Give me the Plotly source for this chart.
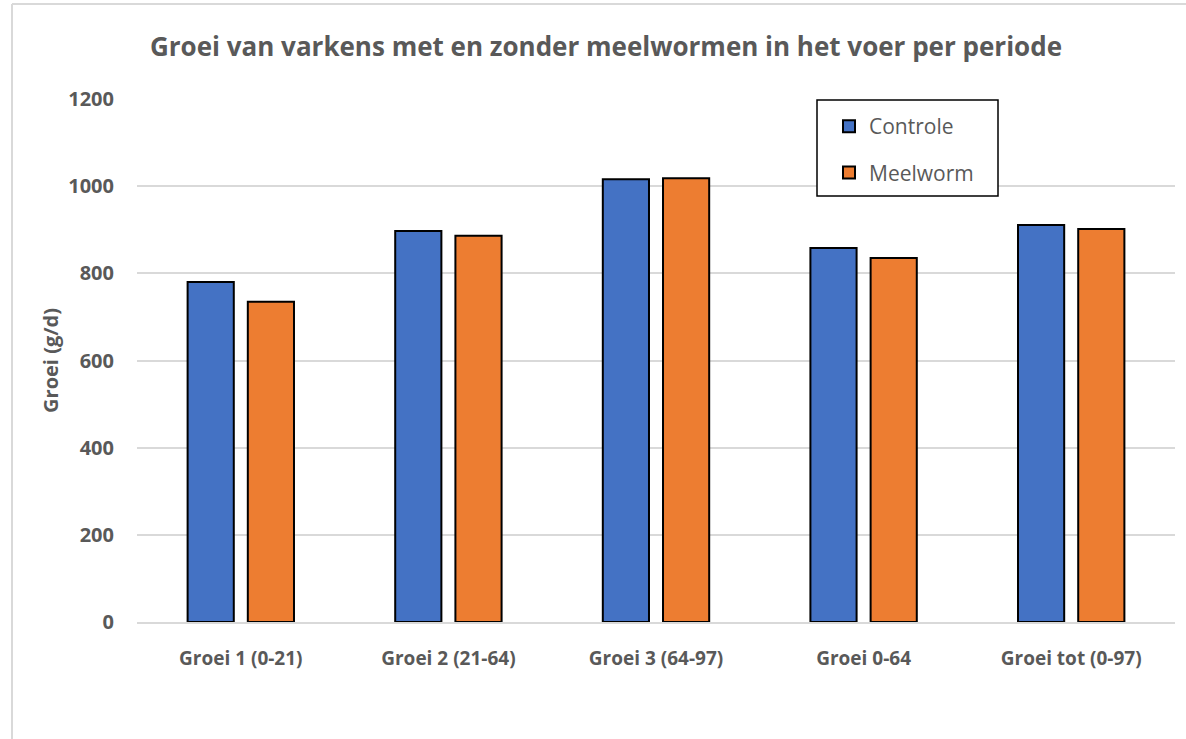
import plotly.graph_objects as go

categories = ["Groei 1 (0-21)", "Groei 2 (21-64)", "Groei 3 (64-97)", "Groei 0-64", "Groei tot (0-97)"]
controle = [780, 897, 1016, 858, 911]
meelworm = [735, 886, 1018, 835, 902]
y_ticks = [0, 200, 400, 600, 800, 1000, 1200]

W, H = 1186, 739
L, R, T, B = 137, 11, 99, 117
pw, ph = W - L - R, H - T - B

font_family = "Open Sans, Noto Sans, sans-serif"
gray = "#595959"

fig = go.Figure()
fig.add_trace(go.Bar(x=categories, y=controle, name="Controle", legendgroup="a",
                     marker=dict(color="#4472C4", line=dict(color="black", width=2))))
fig.add_trace(go.Bar(x=categories, y=meelworm, name="Meelworm", legendgroup="b",
                     marker=dict(color="#ED7D31", line=dict(color="black", width=2))))

fx = lambda px: (px - L) / pw
fy = lambda py: 1 - (py - T) / ph

fig.update_layout(
    width=W, height=H,
    margin=dict(l=L, r=R, t=T, b=B, autoexpand=False),
    paper_bgcolor="white", plot_bgcolor="white",
    barmode="group", bargap=0.42, bargroupgap=0.233,
    title=dict(text="Groei van varkens met en zonder meelwormen in het voer per periode",
               xref="paper", x=fx(606), xanchor="center",
               yref="container", y=1 - 47 / H, yanchor="middle",
               font=dict(family=font_family, size=26, color=gray, weight="bold")),
    font=dict(family=font_family, color=gray),
    legend=dict(x=fx(819), y=fy(106), xanchor="left", yanchor="top",
                borderwidth=0, bgcolor="rgba(0,0,0,0)",
                traceorder="grouped", tracegroupgap=16, indentation=10,
                font=dict(family=font_family, size=21, color=gray)),
    xaxis=dict(showgrid=False, showline=True, linecolor="#d9d9d9", linewidth=1.5,
               tickfont=dict(family=font_family, size=19, color=gray, weight="bold"),
               ticks="", ticklabelstandoff=18),
    yaxis=dict(range=[0, 1200], tickvals=y_ticks, showgrid=True, gridcolor="#d9d9d9",
               gridwidth=1.5, zeroline=False, showline=False, ticks="",
               ticklabelstandoff=22,
               tickfont=dict(family=font_family, size=20, color=gray, weight="bold"),
               title=dict(text="Groei (g/d)", standoff=4,
                          font=dict(family=font_family, size=20, color=gray, weight="bold"))),
    shapes=[
        dict(type="line", xref="paper", yref="paper", x0=fx(12), x1=fx(W), y0=fy(4), y1=fy(4),
             line=dict(color="#d9d9d9", width=2)),
        dict(type="line", xref="paper", yref="paper", x0=fx(12), x1=fx(12), y0=fy(4), y1=fy(H),
             line=dict(color="#d9d9d9", width=2)),
        dict(type="rect", xref="paper", yref="paper", layer="above",
             x0=fx(817), x1=fx(998), y0=fy(196), y1=fy(100),
             fillcolor="white", line=dict(color="black", width=1.5)),
    ],
)

fig.write_html("out.html", config={"displayModeBar": False},
               post_script="document.body.style.margin='0px';")
